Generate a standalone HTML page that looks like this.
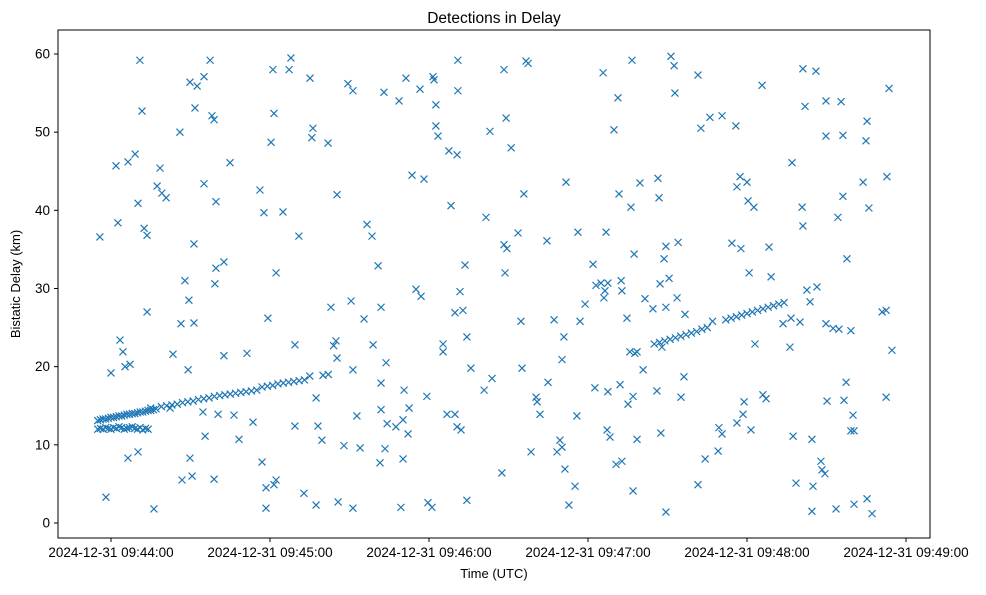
<!DOCTYPE html>
<html><head><meta charset="utf-8"><style>
body{margin:0;background:#fff;font-family:"Liberation Sans","DejaVu Sans",sans-serif}
svg text{font-family:"Liberation Sans","DejaVu Sans",sans-serif;fill:#000}
</style></head><body>
<svg id="chart" width="986" height="590" xmlns="http://www.w3.org/2000/svg">
<rect x="0" y="0" width="986" height="590" fill="#fff"/>
<text x="494" y="23" font-size="15.5" text-anchor="middle">Detections in Delay</text>
<text x="494" y="578" font-size="13" text-anchor="middle">Time (UTC)</text>
<text x="20" y="284" font-size="13" text-anchor="middle" transform="rotate(-90 20 284)">Bistatic Delay (km)</text>
<g id="marks"></g>
<g id="axes"></g>
<rect x="58" y="30" width="872" height="508" fill="none" stroke="#000" stroke-width="1"/>
</svg>
<script>
// seconds since 2024-12-31 09:44:00 UTC
const scatterT = [-4.2,-1.9,0,1.9,2.6,3.4,4.5,5.3,6.4,6.4,7.2,9.1,10.2,10.9,11.7,10.2,12.5,13.6,13.6,16.2,17.4,18.5,19.2,20.8,22.3,23.4,26.0,26.4,26.8,27.9,29.1,29.4,29.8,30.6,31.3,31.3,29.8,31.7,32.5,35.1,35.1,34.7,35.5,37.4,38.1,38.9,39.6,39.6,39.2,38.9,40.4,42.6,42.6,44.9,46.4,48.3,51.3,53.6,56.2,57.0,57.7,58.5,58.5,59.2,60.4,61.1,61.5,62.3,62.3,61.5,64.9,67.2,67.9,69.4,69.4,70.9,72.8,75.1,76.2,75.8,77.4,77.4,78.1,79.6,81.9,83.0,84.9,85.3,85.3,85.7,87.9,89.4,91.3,90.6,91.3,91.3,92.8,94.0,95.5,96.6,98.5,98.9,100.8,101.9,101.9,101.9,101.5,103.0,103.8,104.2,103.4,107.5,108.7,110.2,110.2,109.4,110.6,111.3,112.1,112.5,113.6,115.1,117.0,116.6,118.1,119.2,119.6,121.1,121.5,121.9,122.6,122.6,123.4,125.3,125.3,126.8,127.5,128.3,129.8,129.8,130.9,130.9,130.6,130.6,131.7,132.1,132.8,133.6,134.3,134.3,135.8,140.8,141.5,143.0,143.8,147.5,148.3,148.3,149.1,149.4,148.7,151.0,153.6,154.7,155.1,155.8,156.6,157.4,158.5,160.4,160.8,161.9,164.5,164.9,167.2,168.3,169.4,170.2,170.2,170.9,171.3,171.7,172.8,175.1,175.8,176.2,177.0,178.9,181.9,182.6,183.0,184.9,185.7,186.0,186.8,186.4,187.2,187.5,188.3,187.5,189.8,190.6,191.3,191.7,192.1,192.5,192.8,192.8,194.7,195.1,195.8,196.2,196.6,197.0,197.0,197.4,197.7,198.5,198.5,199.6,200.8,201.5,204.5,206.0,206.4,206.8,207.2,207.9,207.5,208.7,209.4,209.4,209.4,210.6,211.3,212.5,212.8,213.6,214.0,215.1,216.2,216.6,221.5,221.5,222.6,224.2,226.0,229.1,229.4,230.6,230.6,234.3,235.8,236.2,236.2,237.4,237.7,238.5,238.9,240.0,240.4,240.8,241.5,242.6,243.0,245.7,246.0,247.2,248.3,249.1,253.6,256.6,256.2,257.0,257.4,258.5,260.0,260.8,261.1,261.1,261.9,262.6,263.8,264.5,264.9,264.5,266.0,266.4,267.9,268.3,269.4,269.8,269.8,269.8,270.2,272.5,274.3,274.7,273.6,275.5,276.2,276.2,276.6,277.4,277.7,279.2,280.4,280.0,280.4,283.8,284.9,285.3,286.0,285.3,287.2,291.0,292.5,292.5,292.8,293.6,294.7,279.2];
const scatterV = [36.6,3.3,19.2,45.7,38.4,23.4,21.9,20.0,8.3,46.2,20.3,47.2,40.9,59.2,52.7,9.1,37.7,36.8,27.0,1.8,43.1,45.4,42.2,41.6,14.7,21.6,50.0,25.5,5.5,31.0,19.6,28.5,8.3,6.0,25.6,35.7,56.4,53.1,55.9,57.1,43.4,14.2,11.1,59.2,52.1,51.6,41.1,32.6,30.6,5.6,13.9,33.4,21.4,46.1,13.8,10.7,21.7,12.9,42.6,7.8,39.7,4.5,1.9,26.2,48.7,58.0,52.4,32.0,5.5,4.9,39.8,58.0,59.5,22.8,12.4,36.7,3.8,56.9,50.5,49.3,16.0,2.3,12.4,10.6,48.6,27.6,23.3,21.1,42.0,2.7,9.9,56.2,55.3,28.4,19.6,1.9,13.7,9.6,26.1,38.2,36.7,22.8,32.9,27.6,17.9,14.5,7.7,55.1,20.5,12.7,9.5,12.3,54.0,13.2,8.2,2.0,17.0,56.9,11.4,14.7,44.5,29.9,29.0,55.5,44.0,16.2,2.6,2.0,57.1,56.7,53.5,50.8,49.5,21.9,22.9,13.9,47.6,40.6,13.9,26.9,59.2,55.3,12.3,47.1,29.6,11.9,27.2,33.0,2.9,23.8,19.8,17.0,39.1,50.1,18.5,6.4,58.0,35.6,51.8,35.1,32.0,48.0,37.1,25.8,19.8,42.1,59.1,58.8,9.1,16.1,15.5,13.9,36.1,18.0,26.0,9.1,10.6,9.7,20.9,23.8,6.9,43.6,2.3,4.7,13.7,37.2,25.8,28.0,33.1,17.3,30.4,30.7,57.6,28.8,37.2,29.7,11.9,30.7,11.0,16.8,50.3,7.5,54.4,42.1,17.7,31.0,7.9,29.7,26.2,15.2,21.9,40.4,59.2,16.2,4.1,34.4,21.7,10.7,21.9,43.5,19.6,28.7,27.4,16.9,44.1,41.6,30.6,22.5,11.5,33.8,27.6,35.4,1.4,31.3,59.7,58.5,55.0,28.8,35.9,16.1,18.7,26.7,4.9,57.3,50.5,8.2,51.9,9.2,12.2,52.1,11.4,35.8,50.8,12.8,43.0,44.3,35.1,13.9,15.5,43.6,41.2,32.0,11.9,40.4,22.9,56.0,16.4,15.9,35.3,31.5,25.5,26.2,22.5,46.1,11.1,5.1,25.7,40.4,38.0,58.1,53.3,29.8,28.3,10.7,4.7,1.5,57.8,30.2,7.9,6.8,6.3,25.5,49.5,54.0,15.6,24.9,39.1,24.8,1.8,53.9,49.6,41.8,15.7,18.0,33.8,11.8,11.8,13.8,2.4,43.6,48.9,51.4,40.3,3.1,1.2,27.0,16.1,27.2,44.3,55.6,22.1,24.6];
const trackT = [-5,-4,-3,-2,-1,0,1,2,3,4,5,6,7,8,9,10,11,12,13,14,15,16,17,
 -5,-4,-3,-2,-1,0,1,2,3,4,5,6,7,8,9,10,11,12,13,14,15,
 19,21,23,25,27,29,31,33,35,37,39,41,43,45,47,49,51,53,55,57,59,61,63,65,67,69,71,73,75,80,82,84,
 205,207,209,211,213,215,217,219,221,223,225,227,232,234,236,238,240,242,244,246,248,250,252,254,256];
const trackV = [13.1,13.2,13.3,13.3,13.4,13.5,13.5,13.6,13.7,13.7,13.8,13.9,13.9,14.0,14.0,14.1,14.2,14.2,14.3,14.4,14.4,14.5,14.6,
 12.0,12.1,12.0,12.2,12.1,12.0,12.2,12.1,12.3,12.2,12.0,12.1,12.2,12.3,12.1,12.0,12.2,11.9,12.1,12.0,
 14.7,14.9,15.0,15.1,15.2,15.4,15.5,15.6,15.8,15.9,16.0,16.2,16.3,16.4,16.5,16.6,16.7,16.8,16.9,17.0,17.4,17.5,17.6,17.8,17.9,18.0,18.1,18.2,18.3,18.8,18.9,19.0,
 22.7,22.9,23.1,23.3,23.5,23.7,23.9,24.1,24.3,24.5,24.8,25.0,25.8,26.0,26.2,26.4,26.6,26.8,27.0,27.2,27.4,27.6,27.8,28.0,28.2];
const xTickVals = [0,60,120,180,240,300];
const xTickLabels = ["2024-12-31 09:44:00","2024-12-31 09:45:00","2024-12-31 09:46:00","2024-12-31 09:47:00","2024-12-31 09:48:00","2024-12-31 09:49:00"];
const yTickVals = [0,10,20,30,40,50,60];

const NS="http://www.w3.org/2000/svg";
const xs = t => 111 + t*(159/60);
const ys = v => 523 - v*(469/60);
const marks=document.getElementById('marks');
const axes=document.getElementById('axes');
function mk(tag,attrs,parent){const e=document.createElementNS(NS,tag);for(const k in attrs)e.setAttribute(k,attrs[k]);parent.appendChild(e);return e;}
function drawX(t,v,i,kind){
  const cx=xs(t),cy=ys(v),r=3.5;
  const p=mk('path',{d:`M${cx-r},${cy-r}L${cx+r},${cy+r}M${cx-r},${cy+r}L${cx+r},${cy-r}`,stroke:'#1f77b4','stroke-width':1.2,fill:'none'},marks);
  
  
}
scatterT.forEach((t,i)=>drawX(t,scatterV[i],i,'detection'));
trackT.forEach((t,i)=>drawX(t,trackV[i],i,'track'));
xTickVals.forEach((t,i)=>{
  const x=xs(t);
  const l=mk('line',{x1:x,x2:x,y1:538,y2:542,stroke:'#000'},axes);
  
  
  const tx=mk('text',{x:x,y:557,'font-size':13.5,'text-anchor':'middle'},axes);
  tx.textContent=xTickLabels[i];
  
  
});
yTickVals.forEach(v=>{
  const y=ys(v);
  const l=mk('line',{x1:54,x2:58,y1:y,y2:y,stroke:'#000'},axes);
  
  
  const tx=mk('text',{x:50,y:y+4.5,'font-size':13.5,'text-anchor':'end'},axes);
  tx.textContent=String(v);
  
  
});
</script>
</body></html>
